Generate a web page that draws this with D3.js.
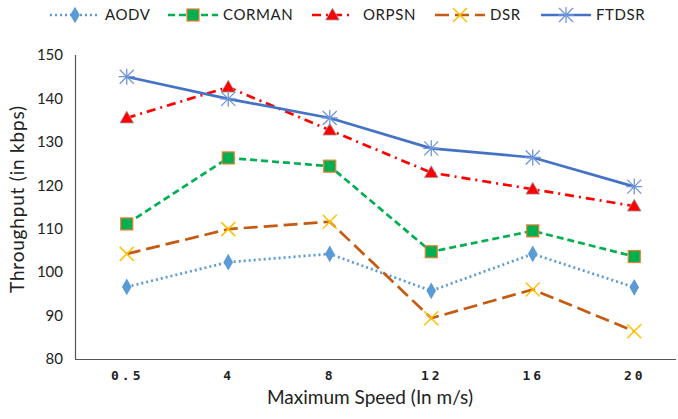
<!DOCTYPE html>
<meta charset="utf-8">
<style>
body { margin: 0; background: #fff; }
text { font-family: Lato, "Open Sans", sans-serif; fill: #222; }
.xlab { font-family: "DejaVu Sans Mono", monospace; font-size: 13px; letter-spacing: 3px; font-weight: bold; }
</style>
<body>
<svg width="678" height="419"></svg>
<script src="https://cdn.jsdelivr.net/npm/d3@7"></script>
<script>

var speeds = ["0.5", "4", "8", "12", "16", "20"];
var aodv   = [96.6, 102.3, 104.2, 95.7, 104.2, 96.5];
var corman = [111.1, 126.3, 124.4, 104.7, 109.5, 103.6];
var orpsn  = [135.5, 142.6, 132.7, 122.9, 119.1, 115.2];
var dsr    = [104.2, 109.9, 111.6, 89.4, 96.0, 86.4];
var ftdsr  = [145.0, 139.9, 135.5, 128.5, 126.4, 119.7];
var yTicks = [80, 90, 100, 110, 120, 130, 140, 150];

var series = [
  {name: "AODV",   vals: aodv,   col: "#5b9bd5", dash: "2,3",      w: 2.7, mk: "diamond"},
  {name: "CORMAN", vals: corman, col: "#00b050", dash: "7,4",      w: 2.7, mk: "square"},
  {name: "ORPSN",  vals: orpsn,  col: "#ff0000", dash: "9,5,2,5",  w: 2.7, mk: "triangle"},
  {name: "DSR",    vals: dsr,    col: "#c55a11", dash: "14,6",     w: 2.7, mk: "x"},
  {name: "FTDSR",  vals: ftdsr,  col: "#4472c4", dash: null,       w: 2.7, mk: "star"}
];

var svg = d3.select("svg");

var x = d3.scalePoint().domain(speeds).range([76, 685]).padding(0.5);
var y = d3.scaleLinear().domain([80, 150]).range([359, 55]);

// axes
svg.append("line").attr("x1", 75.5).attr("x2", 75.5).attr("y1", 55).attr("y2", 359.5)
  .attr("stroke", "#555").attr("stroke-width", 1.2);
svg.append("line").attr("x1", 75).attr("x2", 676).attr("y1", 359.5).attr("y2", 359.5)
  .attr("stroke", "#555").attr("stroke-width", 1.2);

var ya = svg.append("g").attr("transform", "translate(75,0)")
  .call(d3.axisLeft(y).tickValues(yTicks).tickSize(0).tickPadding(12));
ya.select(".domain").remove();
ya.selectAll("text").style("font-family", "Lato, sans-serif").style("font-size", "15px").attr("fill", "#222");

var xa = svg.append("g").attr("transform", "translate(0,359)")
  .call(d3.axisBottom(x).tickSize(0).tickPadding(12));
xa.select(".domain").remove();
xa.selectAll("text").attr("class", "xlab").attr("fill", "#222");

svg.append("text").attr("x", 370).attr("y", 404).attr("text-anchor", "middle")
  .style("font-size", "19px").text("Maximum Speed (In m/s)");
svg.append("text").attr("transform", "translate(24,199) rotate(-90)").attr("text-anchor", "middle")
  .style("font-size", "19px").style("letter-spacing", "0.8px").text("Throughput (in kbps)");

function marker(g, s, cx, cy) {
  if (s.mk == "diamond") {
    g.append("path").attr("d", d3.symbol(d3.symbolDiamond, 80)())
      .attr("transform", "translate(" + cx + "," + cy + ")").attr("fill", "#5b9bd5");
  } else if (s.mk == "square") {
    g.append("rect").attr("x", cx - 6).attr("y", cy - 6).attr("width", 12).attr("height", 12)
      .attr("fill", "#00b050").attr("stroke", "#ed7d31").attr("stroke-width", 1.2);
  } else if (s.mk == "triangle") {
    g.append("path").attr("d", d3.symbol(d3.symbolTriangle, 80)())
      .attr("transform", "translate(" + cx + "," + (cy + 1) + ")")
      .attr("fill", "#ff0000").attr("stroke", "#999").attr("stroke-width", 0.8);
  } else if (s.mk == "x") {
    g.append("path").attr("d", "M-7,-7L7,7M-7,7L7,-7")
      .attr("transform", "translate(" + cx + "," + cy + ")")
      .attr("stroke", "#ffc000").attr("stroke-width", 1.5).attr("fill", "none");
  } else {
    g.append("path").attr("d", "M-7,-7L7,7M-7,7L7,-7M0,-8L0,8M-8,0L8,0")
      .attr("transform", "translate(" + cx + "," + cy + ")")
      .attr("stroke", "#6f95dc").attr("stroke-width", 1.3).attr("fill", "none");
  }
}

var line = d3.line().x(function(d, i) { return x(speeds[i]); }).y(function(d) { return y(d); });

series.forEach(function(s) {
  var g = svg.append("g");
  g.append("path").attr("d", line(s.vals)).attr("fill", "none")
    .attr("stroke", s.col).attr("stroke-width", s.w)
    .attr("stroke-dasharray", s.dash);
  s.vals.forEach(function(v, i) { marker(g, s, x(speeds[i]), y(v)); });
});

// legend
var legX = [50, 168, 312, 435, 541];
var leg = svg.append("g");
series.forEach(function(s, i) {
  var x0 = legX[i], len = (i == 2 ? 41 : 50);
  leg.append("line").attr("x1", x0).attr("x2", x0 + len).attr("y1", 15).attr("y2", 15)
    .attr("stroke", s.col).attr("stroke-width", 2.5).attr("stroke-dasharray", s.dash);
  marker(leg, s, x0 + len / 2, 15);
  leg.append("text").attr("x", x0 + len + (i == 2 ? 10 : 5)).attr("y", 20)
    .style("font-size", "15px").style("letter-spacing", "0.6px").text(s.name);
});

</script>
</body>
